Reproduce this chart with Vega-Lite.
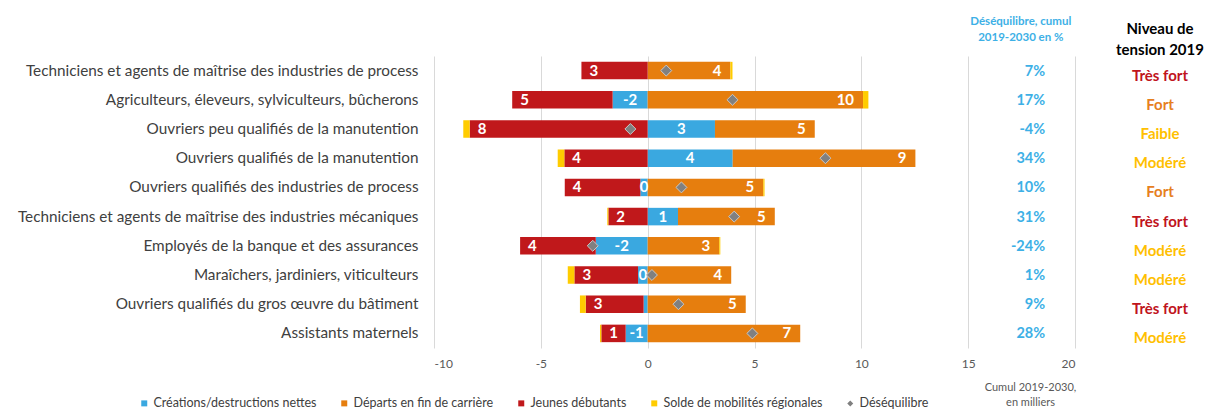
{
  "$schema": "https://vega.github.io/schema/vega-lite/v6.json",
  "padding": {"left": 17, "top": 15, "right": 0, "bottom": 0},
  "spacing": 24,
  "config": {
    "font": "Lato",
    "view": {"stroke": null}
  },
  "datasets": {
    "series": [
      {"metier": "Techniciens et agents de maîtrise des industries de process", "serie": "Créations/destructions nettes", "value": 0.0},
      {"metier": "Techniciens et agents de maîtrise des industries de process", "serie": "Départs en fin de carrière", "value": 3.87},
      {"metier": "Techniciens et agents de maîtrise des industries de process", "serie": "Jeunes débutants", "value": -3.10},
      {"metier": "Techniciens et agents de maîtrise des industries de process", "serie": "Solde de mobilités régionales", "value": 0.10},
      {"metier": "Agriculteurs, éleveurs, sylviculteurs, bûcherons", "serie": "Créations/destructions nettes", "value": -1.64},
      {"metier": "Agriculteurs, éleveurs, sylviculteurs, bûcherons", "serie": "Départs en fin de carrière", "value": 10.08},
      {"metier": "Agriculteurs, éleveurs, sylviculteurs, bûcherons", "serie": "Jeunes débutants", "value": -4.70},
      {"metier": "Agriculteurs, éleveurs, sylviculteurs, bûcherons", "serie": "Solde de mobilités régionales", "value": 0.25},
      {"metier": "Ouvriers peu qualifiés de la manutention", "serie": "Créations/destructions nettes", "value": 3.15},
      {"metier": "Ouvriers peu qualifiés de la manutention", "serie": "Départs en fin de carrière", "value": 4.67},
      {"metier": "Ouvriers peu qualifiés de la manutention", "serie": "Jeunes débutants", "value": -8.33},
      {"metier": "Ouvriers peu qualifiés de la manutention", "serie": "Solde de mobilités régionales", "value": -0.30},
      {"metier": "Ouvriers qualifiés de la manutention", "serie": "Créations/destructions nettes", "value": 3.98},
      {"metier": "Ouvriers qualifiés de la manutention", "serie": "Départs en fin de carrière", "value": 8.55},
      {"metier": "Ouvriers qualifiés de la manutention", "serie": "Jeunes débutants", "value": -3.90},
      {"metier": "Ouvriers qualifiés de la manutention", "serie": "Solde de mobilités régionales", "value": -0.31},
      {"metier": "Ouvriers qualifiés des industries de process", "serie": "Créations/destructions nettes", "value": -0.34},
      {"metier": "Ouvriers qualifiés des industries de process", "serie": "Départs en fin de carrière", "value": 5.41},
      {"metier": "Ouvriers qualifiés des industries de process", "serie": "Jeunes débutants", "value": -3.54},
      {"metier": "Ouvriers qualifiés des industries de process", "serie": "Solde de mobilités régionales", "value": 0.06},
      {"metier": "Techniciens et agents de maîtrise des industries mécaniques", "serie": "Créations/destructions nettes", "value": 1.42},
      {"metier": "Techniciens et agents de maîtrise des industries mécaniques", "serie": "Départs en fin de carrière", "value": 4.53},
      {"metier": "Techniciens et agents de maîtrise des industries mécaniques", "serie": "Jeunes débutants", "value": -1.84},
      {"metier": "Techniciens et agents de maîtrise des industries mécaniques", "serie": "Solde de mobilités régionales", "value": -0.05},
      {"metier": "Employés de la banque et des assurances", "serie": "Créations/destructions nettes", "value": -2.43},
      {"metier": "Employés de la banque et des assurances", "serie": "Départs en fin de carrière", "value": 3.35},
      {"metier": "Employés de la banque et des assurances", "serie": "Jeunes débutants", "value": -3.54},
      {"metier": "Employés de la banque et des assurances", "serie": "Solde de mobilités régionales", "value": 0.05},
      {"metier": "Maraîchers, jardiniers, viticulteurs", "serie": "Créations/destructions nettes", "value": -0.45},
      {"metier": "Maraîchers, jardiniers, viticulteurs", "serie": "Départs en fin de carrière", "value": 3.91},
      {"metier": "Maraîchers, jardiniers, viticulteurs", "serie": "Jeunes débutants", "value": -2.98},
      {"metier": "Maraîchers, jardiniers, viticulteurs", "serie": "Solde de mobilités régionales", "value": -0.31},
      {"metier": "Ouvriers qualifiés du gros œuvre du bâtiment", "serie": "Créations/destructions nettes", "value": -0.19},
      {"metier": "Ouvriers qualifiés du gros œuvre du bâtiment", "serie": "Départs en fin de carrière", "value": 4.59},
      {"metier": "Ouvriers qualifiés du gros œuvre du bâtiment", "serie": "Jeunes débutants", "value": -2.71},
      {"metier": "Ouvriers qualifiés du gros œuvre du bâtiment", "serie": "Solde de mobilités régionales", "value": -0.27},
      {"metier": "Assistants maternels", "serie": "Créations/destructions nettes", "value": -1.03},
      {"metier": "Assistants maternels", "serie": "Départs en fin de carrière", "value": 7.14},
      {"metier": "Assistants maternels", "serie": "Jeunes débutants", "value": -1.14},
      {"metier": "Assistants maternels", "serie": "Solde de mobilités régionales", "value": -0.06}
    ],
    "metiers": [
      {"metier": "Techniciens et agents de maîtrise des industries de process", "deseq": 0.87, "pct": 7, "niveau": "Très fort"},
      {"metier": "Agriculteurs, éleveurs, sylviculteurs, bûcherons", "deseq": 3.97, "pct": 17, "niveau": "Fort"},
      {"metier": "Ouvriers peu qualifiés de la manutention", "deseq": -0.81, "pct": -4, "niveau": "Faible"},
      {"metier": "Ouvriers qualifiés de la manutention", "deseq": 8.32, "pct": 34, "niveau": "Modéré"},
      {"metier": "Ouvriers qualifiés des industries de process", "deseq": 1.58, "pct": 10, "niveau": "Fort"},
      {"metier": "Techniciens et agents de maîtrise des industries mécaniques", "deseq": 4.05, "pct": 31, "niveau": "Très fort"},
      {"metier": "Employés de la banque et des assurances", "deseq": -2.57, "pct": -24, "niveau": "Modéré"},
      {"metier": "Maraîchers, jardiniers, viticulteurs", "deseq": 0.2, "pct": 1, "niveau": "Modéré"},
      {"metier": "Ouvriers qualifiés du gros œuvre du bâtiment", "deseq": 1.44, "pct": 9, "niveau": "Très fort"},
      {"metier": "Assistants maternels", "deseq": 4.9, "pct": 28, "niveau": "Modéré"}
    ]
  },
  "resolve": {"scale": {"color": "independent", "y": "independent"}, "legend": {"color": "independent"}},
  "hconcat": [
    {
      "width": 641,
      "height": 292,
      "title": {"text": ["Déséquilibre, cumul", "2019-2030 en %"], "anchor": "end", "align": "center", "dx": -55, "fontSize": 11.5, "fontWeight": "bold", "color": "#3DB0E6", "lineHeight": 16, "offset": 13},
      "data": {"name": "series"},
      "transform": [
        {"stack": "value", "groupby": ["metier"], "sort": [{"field": "serie", "order": "ascending"}], "as": ["v0", "v1"], "offset": "zero"},
        {"calculate": "(datum.v0 + datum.v1) / 2", "as": "mid"},
        {"calculate": "datum.serie === 'Jeunes débutants' ? toString(round(-datum.value)) : toString(round(datum.value))", "as": "lab"}
      ],
      "layer": [
        {
          "mark": {"type": "bar"},
          "encoding": {
            "y": {"field": "metier", "type": "nominal", "sort": null, "scale": {"paddingInner": 0.4, "paddingOuter": 0.2},
                  "axis": {"title": null, "domain": false, "ticks": false, "grid": false, "labelFontSize": 15.3, "labelColor": "#404040", "labelPadding": 16, "labelLimit": 600}},
            "x": {"field": "v0", "type": "quantitative", "scale": {"domain": [-10, 20], "nice": false, "zero": false},
                  "axis": {"values": [-10, -5, 0, 5, 10, 15, 20], "labelExpr": "datum.value + ''", "grid": true, "gridColor": "#d9d9d9", "domain": false, "ticks": false, "labelColor": "#595959", "labelFontSize": 12, "labelPadding": 10,
                           "title": ["Cumul 2019-2030,", "en milliers"], "titleX": 596, "titleY": 33, "titleAlign": "center", "titleBaseline": "top", "titleFontWeight": "normal", "titleFontSize": 11, "titleColor": "#595959", "titleLineHeight": 15, "titleAngle": 0}},
            "x2": {"field": "v1"},
            "color": {"field": "serie", "type": "nominal",
                      "scale": {"domain": ["Créations/destructions nettes", "Départs en fin de carrière", "Jeunes débutants", "Solde de mobilités régionales", "Déséquilibre"],
                                "range": ["#3AA8E0", "#E67E0E", "#C0181B", "#FFCC00", "#808080"]},
                      "legend": {"orient": "none", "legendX": -296, "legendY": 341, "direction": "horizontal", "columns": 5, "symbolSize": 36,
                                 "symbolType": {"expr": "datum.value === 'Déséquilibre' ? 'diamond' : 'square'"},
                                 "labelFontSize": 12.5, "labelFontWeight": "normal", "labelColor": "#404040", "labelLimit": 300, "columnPadding": 21, "labelOffset": 3, "symbolStrokeWidth": 0, "title": null}}
          }
        },
        {
          "transform": [{"filter": "datum.serie === 'Créations/destructions nettes' && abs(datum.value) >= 0.25"}],
          "mark": {"type": "text", "color": "white", "fontSize": 15, "fontWeight": "bold", "align": "center", "baseline": "middle"},
          "encoding": {
            "y": {"field": "metier", "type": "nominal", "sort": null},
            "x": {"field": "mid", "type": "quantitative"},
            "text": {"field": "lab"}
          }
        },
        {
          "transform": [{"filter": "datum.serie === 'Jeunes débutants'"}],
          "mark": {"type": "text", "color": "white", "fontSize": 15, "fontWeight": "bold", "align": "left", "baseline": "middle", "dx": 8},
          "encoding": {
            "y": {"field": "metier", "type": "nominal", "sort": null},
            "x": {"field": "v1", "type": "quantitative"},
            "text": {"field": "lab"}
          }
        },
        {
          "transform": [{"filter": "datum.serie === 'Départs en fin de carrière'"}],
          "mark": {"type": "text", "color": "white", "fontSize": 15, "fontWeight": "bold", "align": "right", "baseline": "middle", "dx": -9},
          "encoding": {
            "y": {"field": "metier", "type": "nominal", "sort": null},
            "x": {"field": "v1", "type": "quantitative"},
            "text": {"field": "lab"}
          }
        },
        {
          "data": {"name": "metiers"},
          "transform": [{"calculate": "'Déséquilibre'", "as": "serie"}],
          "mark": {"type": "point", "shape": "diamond", "filled": true, "stroke": "#c8c8c8", "strokeWidth": 1, "size": 120, "opacity": 1},
          "encoding": {
            "y": {"field": "metier", "type": "nominal", "sort": null},
            "x": {"field": "deseq", "type": "quantitative"},
            "color": {"field": "serie", "type": "nominal"}
          }
        },
        {
          "data": {"name": "metiers"},
          "transform": [{"calculate": "datum.pct + '%'", "as": "pctlab"}],
          "mark": {"type": "text", "color": "#3DB0E6", "fontSize": 14.5, "fontWeight": "bold", "align": "right", "baseline": "middle", "dy": 1},
          "encoding": {
            "y": {"field": "metier", "type": "nominal", "sort": null},
            "x": {"datum": 18.6, "type": "quantitative"},
            "text": {"field": "pctlab"}
          }
        }
      ]
    },
    {
      "width": 120,
      "height": 292,
      "data": {"name": "metiers"},
      "title": {"text": ["Niveau de", "tension 2019"], "anchor": "middle", "fontSize": 15, "fontWeight": "bold", "color": "#000000", "lineHeight": 21, "offset": -2},
      "mark": {"type": "text", "fontSize": 15, "fontWeight": "bold", "baseline": "middle", "dy": 5},
      "encoding": {
        "y": {"field": "metier", "type": "nominal", "sort": null, "axis": null, "scale": {"paddingInner": 0.4, "paddingOuter": 0.2}},
        "text": {"field": "niveau"},
        "color": {"field": "niveau", "type": "nominal", "scale": {"domain": ["Très fort", "Fort", "Modéré", "Faible"], "range": ["#C0141C", "#E6801E", "#FFC000", "#FFC000"]}, "legend": null}
      }
    }
  ]
}
